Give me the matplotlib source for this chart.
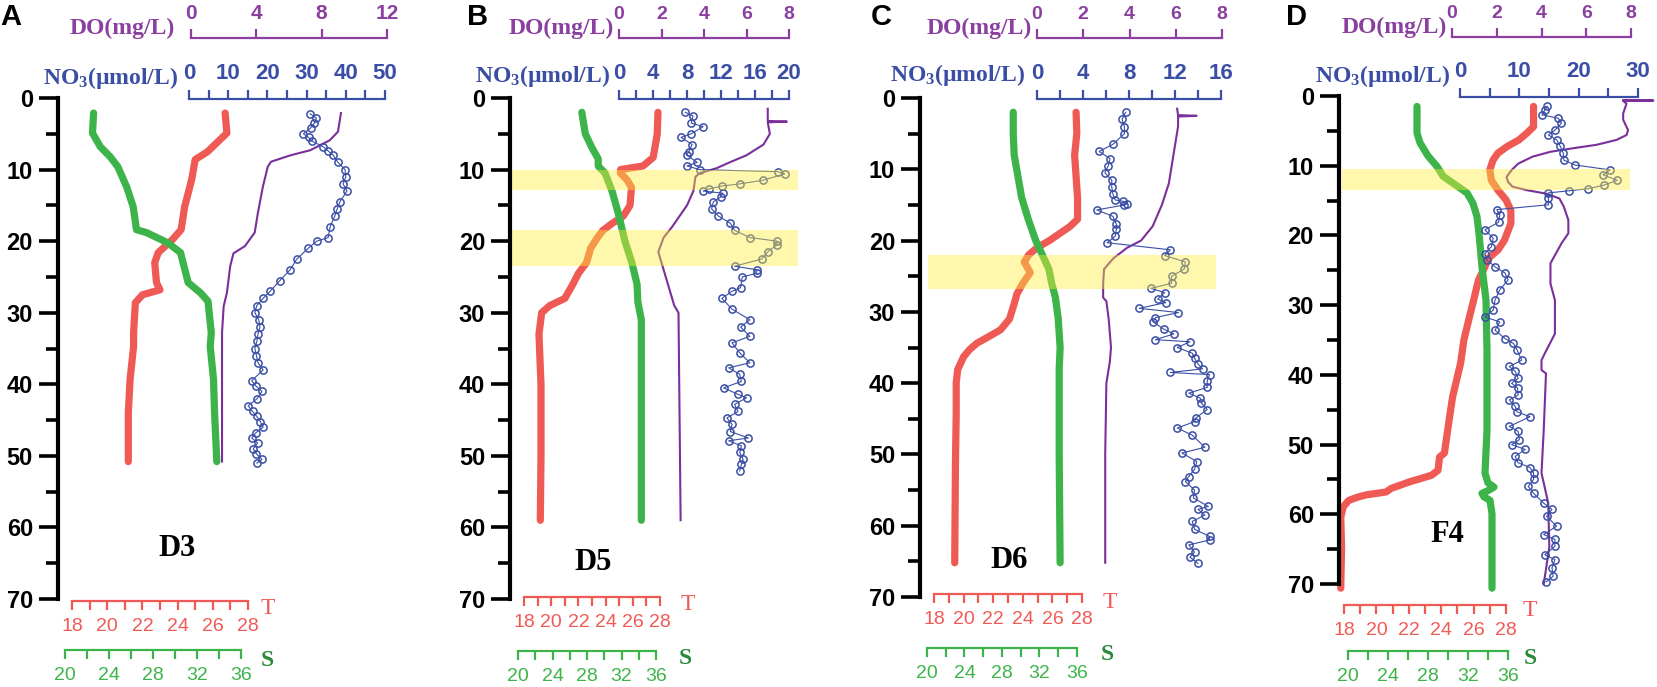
import numpy as np
import matplotlib.pyplot as plt

plt.rcParams['mathtext.fontset'] = 'custom'
plt.rcParams['mathtext.rm'] = 'Liberation Serif'
plt.rcParams['mathtext.bf'] = 'Liberation Serif:bold'
plt.rcParams['mathtext.it'] = 'Liberation Serif:italic'

SANS = 'Liberation Sans'
SERIF = 'Liberation Serif'

# ---- profile data: (depth m, value) ----
T_D3 = [(2.1, 26.7), (4.9, 26.8), (7.5, 25.7), (8.6, 25.0), (11.4, 24.8), (15.2, 24.4),
        (18.4, 24.2), (19.8, 23.7), (21.6, 22.9), (23.0, 22.7), (25.8, 22.8), (26.8, 23.0),
        (27.5, 22.0), (28.6, 21.6), (32.8, 21.5), (34.7, 21.5), (39.3, 21.3), (44.0, 21.2),
        (50.8, 21.2)]
S_D3 = [(2.1, 22.6), (4.9, 22.5), (6.8, 23.2), (8.2, 24.1), (9.6, 24.8), (12.4, 25.6),
        (15.2, 26.2), (18.4, 26.5), (18.8, 27.4), (20.2, 29.3), (21.6, 30.5), (25.8, 31.2),
        (27.2, 32.3), (28.4, 33.0), (32.8, 33.3), (34.7, 33.2), (39.3, 33.5), (44.0, 33.6),
        (50.8, 33.8)]
DO_D3 = [(2.1, 9.18), (4.7, 9.0), (5.9, 8.5), (7.3, 7.3), (8.0, 6.1), (8.9, 4.9), (9.6, 4.7),
         (12.4, 4.4), (16.0, 4.1), (18.8, 3.9), (20.7, 3.3), (21.7, 2.6), (23.5, 2.4),
         (27.2, 2.2), (29.1, 2.0), (32.8, 1.9), (50.8, 1.9)]
NO3_D3 = [(2.2, 30.9), (2.8, 32.5), (3.5, 32.0), (4.2, 31.0), (5.0, 29.2), (5.5, 30.5),
          (6.0, 31.3), (6.8, 34.2), (7.4, 35.5), (8.0, 36.8), (9.0, 38.0), (10.0, 39.8),
          (11.0, 40.0), (12.0, 39.3), (13.0, 40.3), (14.5, 38.5), (15.5, 37.8), (16.5, 37.2),
          (18.0, 36.0), (19.5, 35.5), (20.0, 32.6), (21.0, 30.4), (22.5, 27.5), (24.0, 25.8),
          (25.5, 23.2), (27.0, 20.7), (28.0, 18.9), (29.0, 17.3), (30.0, 16.8), (31.0, 17.8),
          (32.0, 18.1), (33.0, 17.6), (34.0, 17.3), (35.0, 16.8), (36.0, 17.2), (37.0, 17.6),
          (38.0, 18.9), (39.5, 16.0), (40.2, 17.0), (41.0, 18.6), (42.0, 17.4), (43.0, 15.1),
          (43.8, 16.2), (44.5, 17.3), (45.2, 18.2), (46.0, 18.9), (46.8, 17.0), (47.5, 16.0),
          (48.2, 17.5), (49.0, 16.4), (49.7, 17.2), (50.5, 18.6), (51.0, 17.3)]

T_D5 = [(2, 27.85), (5, 27.8), (8.3, 27.5), (9.5, 26.75), (10, 25.1), (10.5, 25.1),
        (11.5, 25.6), (12.5, 25.9), (15, 25.8), (16.5, 25.3), (17.5, 24.5), (18.5, 23.8),
        (19.5, 23.4), (21, 22.9), (23, 22.6), (24.5, 22.0), (26, 21.6), (28, 21.0),
        (29, 19.9), (30, 19.3), (33, 19.1), (40, 19.25), (50, 19.25), (59, 19.2)]
S_D5 = [(2, 27.4), (5, 27.8), (7, 28.6), (8.5, 29.3), (9.5, 29.3), (10.5, 30.1), (13, 30.9),
        (16, 31.6), (20, 32.4), (23, 33.2), (26, 33.8), (28.5, 33.9), (31, 34.3), (40, 34.3),
        (59, 34.3)]
DO_D5 = [(1.5, 7.0), (3.2, 7.0), (3.3, 7.9), (3.4, 7.0), (5, 7.1), (6.5, 6.8), (8, 6.0),
         (9, 5.2), (9.8, 4.6), (10.5, 3.8), (11, 3.6), (13, 3.5), (15, 3.2), (18, 2.5),
         (19.5, 2.1), (21.5, 1.85), (23, 2.0), (26, 2.3), (29, 2.6), (30, 2.8), (59, 2.9)]
NO3_D5 = [(2, 7.8), (2.5, 8.7), (3.5, 8.5), (4, 9.9), (5, 8.5), (5.5, 7.3), (6.5, 8.6),
          (7.5, 8.2), (8, 8.0), (9, 9.2), (9.5, 8.0), (10, 9.5), (10.3, 18.7), (10.6, 19.5),
          (11.5, 16.9), (12, 14.2), (12.3, 12.1), (12.7, 10.6), (13, 9.9), (13.3, 12.2),
          (13.8, 12.0), (14.5, 11.1), (15.5, 10.9), (16.5, 11.7), (17.5, 13.1), (18.5, 13.6),
          (19.5, 15.4), (20, 18.6), (20.5, 18.6), (21.5, 17.5), (22.5, 16.8), (23.5, 13.6),
          (24, 16.2), (24.5, 16.2), (25, 14.5), (26.5, 14.3), (27, 13.3), (28, 12.1),
          (29.5, 13.3), (31, 15.4), (32, 14.3), (33.3, 15.4), (34.2, 13.3), (35.6, 14.2),
          (37, 15.4), (37.7, 12.9), (38.6, 14.2), (39.6, 14.4), (40.5, 12.3), (41.4, 14.0),
          (41.9, 15.0), (42.8, 13.6), (43.8, 14.0), (44.7, 12.7), (45.6, 13.3), (46.6, 13.1),
          (47.5, 15.2), (47.9, 12.9), (48.6, 14.4), (49.5, 14.2), (50.5, 14.6), (51.2, 14.4),
          (52.1, 14.2)]

T_D6 = [(2, 27.6), (5, 27.65), (8, 27.5), (11, 27.6), (14, 27.7), (17, 27.7), (18, 27.2),
        (19, 26.5), (20, 25.8), (21, 24.96), (22, 24.4), (23, 24.1), (24.5, 24.5), (26, 24.0),
        (27.5, 23.6), (29, 23.4), (31, 23.1), (32.5, 22.5), (33, 22.1), (34.4, 20.9),
        (35.3, 20.4), (36.3, 20.0), (38.1, 19.6), (40, 19.5), (44.2, 19.5), (51.2, 19.45),
        (65.2, 19.4)]
S_D6 = [(2, 29.2), (5, 29.2), (8, 29.3), (11, 29.7), (14, 30.1), (17, 30.8), (20, 31.6),
        (22, 32.3), (24, 33.0), (26, 33.3), (28, 33.7), (31, 34.0), (35, 34.2), (38, 34.1),
        (50, 34.1), (65.2, 34.2)]
DO_D6 = [(1.5, 6.06), (2.4, 6.1), (2.5, 6.9), (2.6, 6.1), (4, 6.1), (8, 5.9), (12, 5.7),
         (15, 5.4), (18, 5.0), (20, 4.5), (21, 3.9), (22.5, 3.3), (24, 2.9), (26, 2.86),
         (28, 2.86), (28.5, 3.0), (31, 3.1), (35, 3.2), (37, 3.15), (40, 3.0), (50, 2.95),
         (65.2, 2.95)]
NO3_D6 = [(2, 7.7), (3, 7.4), (4, 7.6), (5, 7.6), (6.5, 6.6), (7.5, 5.4), (8.5, 6.35),
          (9.5, 6.2), (10.5, 5.9), (11.5, 6.5), (12.5, 6.5), (13.5, 6.6), (14.3, 6.8),
          (14.5, 7.5), (14.8, 7.8), (15, 7.6), (15.7, 5.2), (16.6, 6.6), (17.7, 6.9),
          (18.4, 6.9), (19.4, 6.8), (20.3, 6.1), (21.3, 11.6), (22.1, 11.1), (23, 12.9),
          (24, 12.8), (25, 11.7), (26, 11.7), (26.7, 9.9), (27.3, 11.1), (28.2, 10.5),
          (28.7, 11.2), (29.5, 8.9), (30.1, 12.3), (30.8, 10.3), (31.4, 10.1), (32.4, 11.0),
          (33.1, 11.9), (33.9, 10.3), (34.2, 13.3), (35, 12.2), (35.8, 13.5), (36.5, 13.7),
          (37.3, 14.0), (38, 14.4), (38.5, 11.6), (38.8, 15.0), (39.7, 14.8), (40.6, 14.8),
          (41.4, 13.2), (42.1, 14.2), (42.8, 14.3), (43.7, 14.8), (44.9, 13.8), (45.4, 13.7),
          (46.3, 12.2), (47.3, 13.5), (49.0, 14.6), (49.8, 12.6), (51, 13.9), (52.1, 13.7),
          (53.1, 13.2), (53.8, 12.9), (55, 13.7), (56.1, 13.6), (57.3, 14.9), (57.7, 14.0),
          (58.5, 14.6), (59.4, 13.5), (60.5, 13.7), (61.5, 15.0), (62, 15.0), (62.7, 13.2),
          (63.7, 13.7), (64.4, 13.3), (65.3, 14.0)]

T_F4 = [(1.5, 29.7), (4.4, 29.7), (5.3, 29.3), (6.3, 28.8), (7.2, 28.1), (8.2, 27.5),
        (9.2, 27.2), (10.6, 27.0), (12.1, 27.1), (13.5, 27.5), (14.9, 28.0), (16.4, 28.3),
        (18.3, 28.3), (20.7, 27.9), (22.1, 27.5), (23.3, 26.9), (24.5, 26.7), (26.4, 26.3),
        (29.3, 26.0), (32.1, 25.7), (35.0, 25.4), (38.3, 25.2), (43.2, 24.7), (47.9, 24.4),
        (51.2, 24.2), (51.8, 23.9), (53.7, 23.8), (54.4, 23.4), (54.9, 22.7), (55.3, 22.1),
        (55.8, 21.5), (56.3, 20.9), (56.8, 20.6), (57.0, 20.0), (57.2, 19.4), (57.5, 18.9),
        (58.0, 18.3), (58.9, 17.96), (60.4, 17.8), (64.7, 17.85), (70.6, 17.8)]
S_F4 = [(1.5, 26.9), (5.3, 26.9), (6.7, 27.2), (8.6, 28.0), (10.1, 28.9), (11.5, 29.5),
        (12.5, 30.5), (13.9, 31.9), (15.4, 32.5), (17.3, 32.9), (19.7, 33.1), (24.5, 33.4),
        (29.3, 33.8), (36.5, 33.9), (47.9, 33.9), (54.1, 33.7), (55.5, 34.0), (56.1, 34.6),
        (56.6, 34.0), (57.0, 33.4), (57.5, 33.6), (58.0, 34.2), (59.9, 34.4), (70.6, 34.4)]
DO_F4 = [(0.6, 7.65), (0.65, 9.0), (0.7, 7.65), (1.1, 7.8), (2.5, 7.65), (3.4, 7.65),
         (4.9, 7.87), (5.6, 7.8), (6.3, 7.35), (7.0, 6.46), (7.5, 5.4), (8.0, 4.4), (8.7, 3.6),
         (9.7, 2.96), (10.6, 2.67), (11.6, 2.44), (12.3, 2.5), (13.0, 2.7), (13.5, 3.33),
         (14.0, 4.2), (14.7, 4.8), (15.9, 5.0), (17.8, 5.2), (19.7, 5.2), (21.1, 4.9),
         (24.0, 4.4), (26.9, 4.4), (29.3, 4.6), (34.1, 4.6), (36.9, 4.15), (37.9, 4.0),
         (39.3, 4.0), (39.8, 4.2), (47.9, 4.1), (54.1, 4.0), (55.5, 4.1), (58.4, 4.3),
         (64.7, 4.35), (70.0, 4.1)]
NO3_F4 = [(1.5, 14.7), (2.0, 14.3), (2.7, 13.8), (3.2, 16.6), (3.9, 17.1), (4.9, 16.0),
          (5.6, 14.9), (6.3, 16.3), (7.2, 16.9), (8.2, 17.4), (9.2, 17.5), (9.9, 19.4),
          (10.6, 25.3), (11.3, 24.1), (12.1, 26.5), (12.8, 24.2), (13.3, 21.6), (13.6, 18.3),
          (13.9, 14.9), (14.7, 14.9), (15.6, 14.9), (16.3, 6.2), (17.1, 6.7), (18.1, 6.5),
          (19.2, 4.2), (20.4, 5.6), (21.6, 5.3), (22.6, 4.2), (23.5, 4.5), (24.5, 5.9),
          (25.4, 7.6), (26.4, 8.1), (27.8, 6.7), (29.3, 5.9), (30.7, 5.6), (31.7, 4.2),
          (32.4, 6.7), (33.6, 5.9), (34.8, 7.6), (35.5, 9.0), (36.4, 9.6), (37.9, 10.4),
          (38.8, 8.3), (39.5, 9.3), (40.5, 9.8), (41.2, 8.7), (41.9, 9.7), (42.9, 9.8),
          (43.6, 8.3), (44.5, 9.3), (45.3, 9.6), (46.0, 11.8), (47.4, 8.3), (48.1, 9.8),
          (49.3, 10.0), (50.0, 8.7), (50.7, 11.0), (51.7, 9.3), (52.6, 9.8), (53.3, 11.8),
          (54.1, 12.4), (55.0, 12.4), (56.0, 11.5), (57.0, 12.4), (58.4, 14.1), (59.3, 15.5),
          (60.3, 14.6), (61.7, 16.3), (62.9, 14.1), (63.6, 16.0), (64.6, 16.0), (65.8, 14.3),
          (66.5, 16.0), (67.7, 15.5), (68.9, 15.7), (69.7, 14.5)]

STATIONS = ['D3', 'D5', 'D6', 'F4']
PROFILES = {'D3': (T_D3, S_D3, DO_D3, NO3_D3), 'D5': (T_D5, S_D5, DO_D5, NO3_D5),
            'D6': (T_D6, S_D6, DO_D6, NO3_D6), 'F4': (T_F4, S_F4, DO_F4, NO3_F4)}
DO_RANGE = {'D3': (0, 12, 4), 'D5': (0, 8, 2), 'D6': (0, 8, 2), 'F4': (0, 8, 2)}
NO3_RANGE = {'D3': (0, 50, 10, 5), 'D5': (0, 20, 4, 2), 'D6': (0, 16, 4, 2), 'F4': (0, 30, 10, 5)}
BANDS = {'D3': [], 'D5': [(10.0, 12.8), (18.5, 23.5)], 'D6': [(22.0, 26.8)], 'F4': [(10.5, 13.5)]}

# ---- layout in figure pixels ----
LAYOUT = {
    'D3': dict(letter='A', lx=0, spine=58, y0=98, y70=599, right=400,
               T=(72, 248, 601), S=(65, 241, 650), DO=(191, 387, 38), NO3=(189, 385, 99),
               do_lab=(175, 28), no3_lab=(178, 78), t_lab=(268, 608), s_lab=(267, 660),
               st=(177, 548), band_x=(512, 798)),
    'D5': dict(letter='B', lx=467, spine=510, y0=98, y70=599, right=798,
               T=(524, 660, 597), S=(518, 656, 651), DO=(619, 789, 38), NO3=(619, 789, 99),
               do_lab=(614, 28), no3_lab=(610, 76), t_lab=(688, 605), s_lab=(685, 658),
               st=(593, 562), band_x=(512, 798)),
    'D6': dict(letter='C', lx=871, spine=920, y0=98, y70=597, right=1216,
               T=(934, 1082, 594), S=(927, 1077, 648), DO=(1037, 1222, 38), NO3=(1037, 1221, 99),
               do_lab=(1032, 28), no3_lab=(1025, 75), t_lab=(1110, 602), s_lab=(1107, 655),
               st=(1009, 560), band_x=(928, 1216)),
    'F4': dict(letter='D', lx=1286, spine=1339, y0=96, y70=584, right=1630,
               T=(1344, 1506, 605), S=(1348, 1508, 651), DO=(1452, 1631, 37), NO3=(1460, 1638, 97),
               do_lab=(1447, 27), no3_lab=(1450, 76), t_lab=(1530, 610), s_lab=(1530, 658),
               st=(1447, 535), band_x=(1342, 1630)),
}

C_T = '#f05a55'
C_S = '#3db449'
C_S_DARK = '#2b8a3a'
C_DO = '#8b3fa0'
C_DO_LINE = '#7a2f9a'
C_NO3 = '#3a4ea6'
C_BAND = '#fdee3a'

W, H = 1657, 687
PT = 0.72
fig = plt.figure(figsize=(W / 100, H / 100), dpi=100)


def px_ax(x0, x1, y0, y1):
    return fig.add_axes([x0 / W, 1 - y1 / H, (x1 - x0) / W, (y1 - y0) / H])


def ftext(x, y, s, **kw):
    return fig.text(x / W, 1 - y / H, s, **kw)


def scale_axis(lay, spec, lo, hi, major, minor, side, color, fsize, weight):
    x0, x1, yline = spec
    ax = px_ax(x0, x1, lay['y0'], lay['y70'])
    ax.set_xlim(lo, hi)
    ax.set_ylim(70, 0)
    ax.patch.set_visible(False)
    for s in ax.spines.values():
        s.set_visible(False)
    ax.set_yticks([])
    sp = ax.spines[side]
    sp.set_visible(True)
    sp.set_color(color)
    sp.set_linewidth(1.6)
    off = (lay['y0'] - yline) if side == 'top' else (yline - lay['y70'])
    sp.set_position(('outward', off * PT))
    if side == 'top':
        ax.xaxis.tick_top()
    else:
        ax.xaxis.tick_bottom()
    ticks = np.arange(lo, hi + 1e-9, major)
    ax.set_xticks(ticks, labels=['%g' % t for t in ticks], fontsize=fsize,
                  fontweight=weight, family=SANS, color=color)
    ax.set_xticks(np.arange(lo, hi + 1e-9, minor), minor=True)
    ax.tick_params(axis='x', which='both', direction='out', length=6.5, width=1.6,
                   color=color, pad=4 if side == 'top' else 6)
    return ax


for st in STATIONS:
    lay = LAYOUT[st]
    t_data, s_data, do_data, no3_data = [np.array(p) for p in PROFILES[st]]

    ax_t = scale_axis(lay, lay['T'], 18, 28, 2, 1, 'bottom', C_T, 14, 'normal')
    ax_t.plot(t_data[:, 1], t_data[:, 0], color=C_T, lw=5.2, solid_capstyle='round',
              solid_joinstyle='round', clip_on=False)

    ax_s = scale_axis(lay, lay['S'], 20, 36, 4, 2, 'bottom', C_S, 14, 'normal')
    ax_s.plot(s_data[:, 1], s_data[:, 0], color=C_S, lw=5.2, solid_capstyle='round',
              solid_joinstyle='round', clip_on=False)

    lo, hi, step = DO_RANGE[st]
    ax_do = scale_axis(lay, lay['DO'], lo, hi, step, step, 'top', C_DO,
                       15 if st == 'D3' else 14, 'bold')
    ax_do.plot(do_data[:, 1], do_data[:, 0], color=C_DO_LINE, lw=1.5, clip_on=False)

    lo, hi, step, mstep = NO3_RANGE[st]
    ax_n = scale_axis(lay, lay['NO3'], lo, hi, step, mstep, 'top', C_NO3, 16, 'bold')
    ax_n.plot(no3_data[:, 1], no3_data[:, 0], '-o', color=C_NO3, lw=0.8, ms=5.2,
              mfc='none', mew=1.1, clip_on=False)

    # depth axis (drawn last so the highlight bands tint the profiles)
    ax = px_ax(lay['spine'], lay['right'], lay['y0'], lay['y70'])
    ax.set_ylim(70, 0)
    ax.set_xlim(0, 1)
    ax.patch.set_visible(False)
    for s in ['top', 'right', 'bottom']:
        ax.spines[s].set_visible(False)
    ax.spines['left'].set_linewidth(3)
    ax.set_xticks([])
    ax.set_yticks(np.arange(0, 71, 10), labels=[str(v) for v in range(0, 71, 10)],
                  fontsize=17, fontweight='bold', family=SANS)
    ax.set_yticks(np.arange(5, 70, 10), minor=True)
    ax.tick_params(axis='y', which='major', length=14, width=2.6, pad=4)
    ax.tick_params(axis='y', which='minor', length=8.5, width=2.6)
    bx0, bx1 = lay['band_x']
    span = lay['right'] - lay['spine']
    for d0, d1 in BANDS[st]:
        ax.axhspan(d0, d1, xmin=(bx0 - lay['spine']) / span, xmax=(bx1 - lay['spine']) / span,
                   fc=C_BAND, alpha=0.42, lw=0)

    # labels
    ftext(lay['lx'], 3, lay['letter'], ha='left', va='top', fontsize=21,
          fontweight='bold', family=SANS)
    ftext(*lay['do_lab'], 'DO(mg/L)', ha='right', va='center', fontsize=17,
          fontweight='bold', family=SERIF, color=C_DO)
    ftext(*lay['no3_lab'], r'NO$_{\mathbf{3}}$(µmol/L)', ha='right', va='center',
          fontsize=17, fontweight='bold', family=SERIF, color=C_NO3)
    ftext(*lay['t_lab'], 'T', ha='center', va='center', fontsize=17,
          family=SERIF, color=C_T)
    ftext(*lay['s_lab'], 'S', ha='center', va='center', fontsize=17,
          fontweight='bold', family=SERIF, color=C_S_DARK)
    ftext(*lay['st'], st, ha='center', va='center', fontsize=22,
          fontweight='bold', family=SERIF)

fig.savefig('out.png', dpi=100)
